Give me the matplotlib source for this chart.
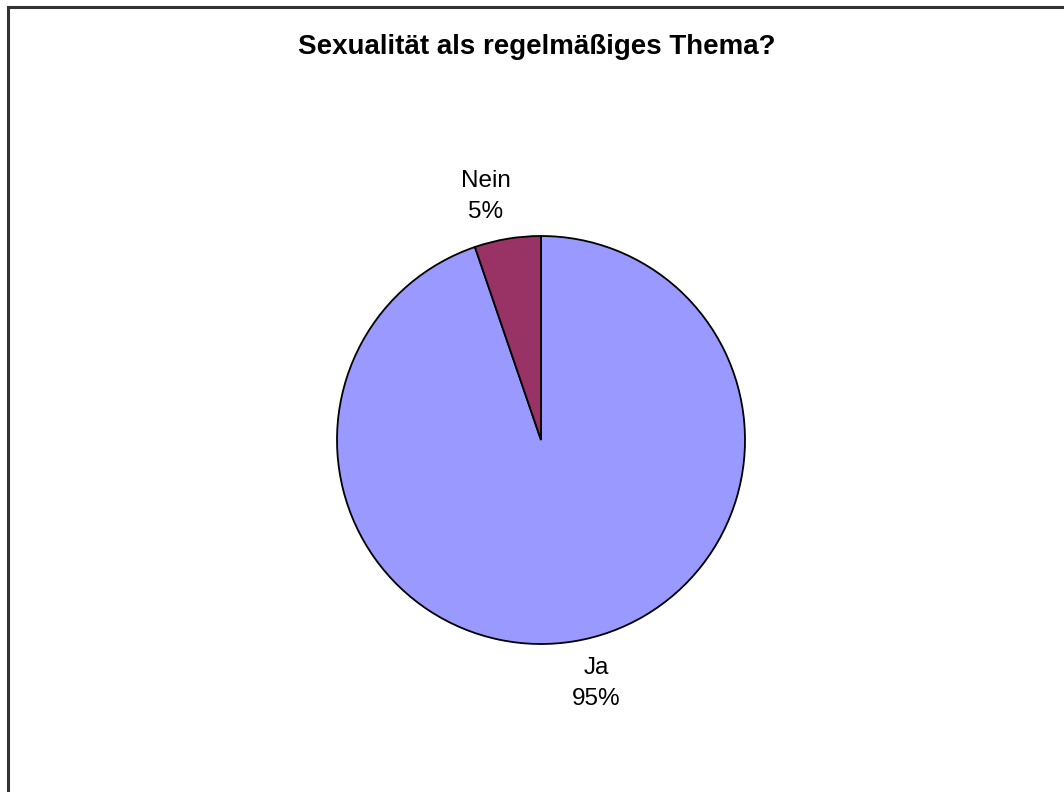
import matplotlib
matplotlib.use("Agg")
import numpy as np
import matplotlib.pyplot as plt
from matplotlib.patches import Rectangle

plt.rcParams['font.family'] = ['Liberation Sans', 'DejaVu Sans']

# data
categories = ["Ja", "Nein"]
shares = [94.75, 5.25]
colors = ["#9999FF", "#993366"]
title = "Sexualität als regelmäßiges Thema?"

labels = ["{c}\n{p:.0f}%".format(c=c, p=s) for c, s in zip(categories, shares)]

fig = plt.figure(figsize=(10.64, 7.92), dpi=100)

# pie area in pixels: x 337..745, y 236..644
ax = fig.add_axes([337 / 1064, 1 - 644 / 792, 408 / 1064, 408 / 792])
wedges, texts = ax.pie(shares, labels=labels, colors=colors, startangle=90,
                       counterclock=False, labeldistance=1.22,
                       wedgeprops=dict(edgecolor="black", linewidth=1.3),
                       textprops=dict(fontsize=17.5, ha="center", va="center",
                                      linespacing=1.5))
# excel puts labels a bit further round than the wedge middle
for w, t in zip(wedges, texts):
    mid = np.deg2rad((w.theta1 + w.theta2) / 2 + 3.3)
    t.set_position((1.225 * np.cos(mid), 1.225 * np.sin(mid)))

ax.set_xlim(-1, 1)
ax.set_ylim(-1, 1)
ax.set_aspect("equal")
ax.axis("off")

fig.text(537 / 1064, 1 - 47 / 792, title, ha="center", va="center",
         fontsize=20, fontweight="bold")

# chart frame (cut off on right and bottom)
fig.patches.append(Rectangle((7.5 / 1064, -0.05), 1.1, 1 - 6.5 / 792 + 0.05,
                             transform=fig.transFigure, fill=False,
                             edgecolor="#333333", linewidth=2.2))

fig.savefig("out.png", dpi=100)
